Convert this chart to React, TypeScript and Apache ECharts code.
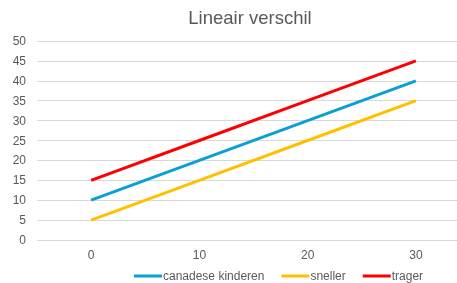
import React, { useEffect, useRef } from "react";
import * as echarts from "echarts";

const xValues = [0, 10, 20, 30];
const canadese = [10, 20, 30, 40];
const sneller = [5, 15, 25, 35];
const trager = [15, 25, 35, 45];
const seriesNames = ["canadese kinderen", "sneller", "trager"];
const seriesColors = ["#0AA0D6", "#FFC000", "#FF0000"];
const titleText = "Lineair verschil";

export default function App() {
  const ref = useRef<HTMLDivElement>(null);
  useEffect(() => {
    const chart = echarts.init(ref.current!, null, { renderer: "svg" });
    const data = [canadese, sneller, trager];
    const font = "'Liberation Sans', Arial, sans-serif";
    chart.setOption({
      animation: false,
      textStyle: { fontFamily: font },
      title: {
        text: titleText,
        left: 250,
        textAlign: "center",
        top: 8,
        padding: 0,
        textStyle: { color: "#595959", fontSize: 18.5, fontWeight: "normal", fontFamily: font },
      },
      legend: {
        left: 134,
        top: 270,
        padding: 0,
        icon: "rect",
        itemWidth: 28,
        itemHeight: 3,
        itemGap: 17,
        textStyle: { color: "#595959", fontSize: 12, fontFamily: font, padding: [0, 0, 0, -4] },
        data: seriesNames,
      },
      grid: { left: 37, width: 433, top: 41, height: 199, outerBoundsMode: "none", containLabel: false },
      xAxis: {
        type: "value",
        min: -5,
        max: 35,
        interval: 5,
        axisLine: { show: false },
        axisTick: { show: false },
        splitLine: { show: false },
        axisLabel: {
          color: "#595959",
          fontSize: 12,
          fontFamily: font,
          margin: 9,
          formatter: (v: number) => (v >= 0 && v <= 30 && v % 10 === 0 ? String(v) : ""),
        },
      },
      yAxis: {
        type: "value",
        min: 0,
        max: 50,
        interval: 5,
        axisLine: { show: false },
        axisTick: { show: false },
        splitLine: { lineStyle: { color: "#D9D9D9", width: 1 } },
        axisLabel: { color: "#595959", fontSize: 12, fontFamily: font, margin: 11 },
      },
      series: data.map((d, i) => ({
        name: seriesNames[i],
        type: "line",
        data: xValues.map((x, j) => [x, d[j]]),
        showSymbol: false,
        symbol: "none",
        lineStyle: { color: seriesColors[i], width: 3 },
        itemStyle: { color: seriesColors[i] },
      })),
    });
    return () => chart.dispose();
  }, []);
  return (
    <div
      ref={ref}
      style={{ position: "fixed", left: 0, top: 0, width: 457, height: 283, overflow: "hidden" }}
    />
  );
}
